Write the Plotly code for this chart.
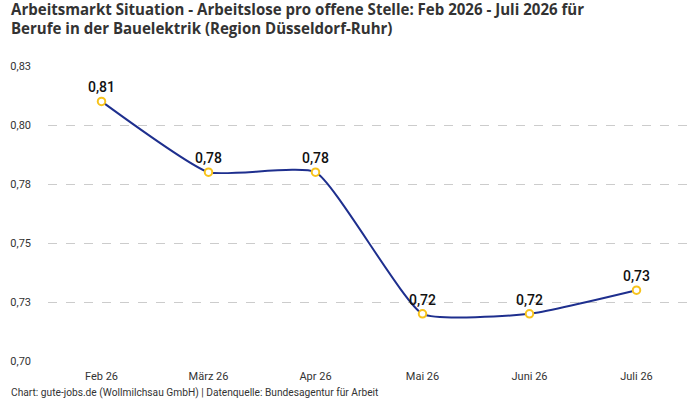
import plotly.graph_objects as go

# Daten
monate = ["Feb 26", "März 26", "Apr 26", "Mai 26", "Juni 26", "Juli 26"]
quote = [0.81, 0.78, 0.78, 0.72, 0.72, 0.73]
y_ticks = [0.70, 0.725, 0.75, 0.775, 0.80, 0.825]
y_labels = ["0,70", "0,73", "0,75", "0,78", "0,80", "0,83"]

titel_1 = "Arbeitsmarkt Situation - Arbeitslose pro offene Stelle: Feb 2026 - Juli 2026 für"
titel_2 = "Berufe in der Bauelektrik (Region Düsseldorf-Ruhr)"
quelle = "Chart: gute-jobs.de (Wollmilchsau GmbH) | Datenquelle: Bundesagentur für Arbeit"

font = "Roboto"
titel_font = dict(family="Open Sans", size=15.05, color="#333", weight="bold")

trace = go.Scatter(
    x=monate, y=quote,
    mode="lines+markers+text",
    line=dict(color="#1e2f8e", width=2, shape="spline", smoothing=0.45),
    marker=dict(size=7.5, color="white", line=dict(color="#f7c31c", width=2)),
    texttemplate="%{y:.2f}", textposition="top center",
    textfont=dict(family=font, size=14, color="#111", weight=500),
    cliponaxis=False, hoverinfo="skip",
)

fig = go.Figure([trace])
fig.update_layout(
    width=700, height=400,
    margin=dict(l=48, r=10, t=66, b=39),
    paper_bgcolor="white", plot_bgcolor="white",
    separators=",.",
    showlegend=False,
    font=dict(family=font, color="#333"),
    annotations=[
        dict(text=titel_1, xref="paper", yref="paper", x=0, y=1, xanchor="left", yanchor="middle",
             xshift=-39, yshift=57, showarrow=False, font=titel_font),
        dict(text=titel_2, xref="paper", yref="paper", x=0, y=1, xanchor="left", yanchor="middle",
             xshift=-39, yshift=38, showarrow=False, font=titel_font),
        dict(text=quelle, xref="paper", yref="paper", x=0, y=0, xanchor="left", yanchor="middle",
             xshift=-39, yshift=-32, showarrow=False, font=dict(family=font, size=10.2, color="#333")),
    ],
)
fig.update_xaxes(range=[-0.5, 5.5], showgrid=False, showline=False, ticks="",
                 ticklabelstandoff=7, tickfont=dict(size=11, color="#333"))
fig.update_yaxes(range=[0.70, 0.825], tickvals=y_ticks, ticktext=y_labels,
                 showgrid=True, gridcolor="#cccccc", griddash="dash", gridwidth=1,
                 zeroline=False, showline=False, ticks="", ticklabelstandoff=16,
                 tickfont=dict(size=11, color="#333"))

# Standardrand des <body> entfernen, damit die 700x400 genau passen
fig.write_html("out.html", config={"displayModeBar": False},
               post_script="document.body.style.margin='0';")
